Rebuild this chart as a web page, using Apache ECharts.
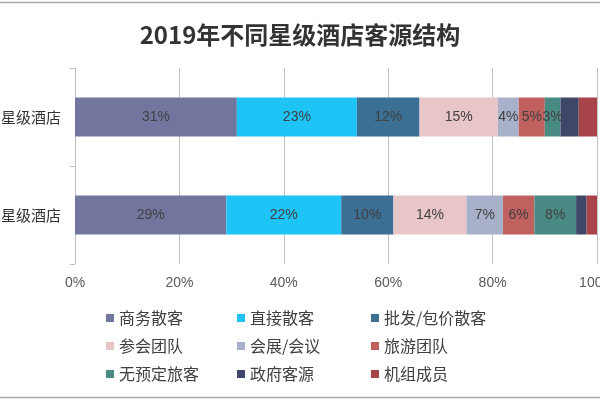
<!DOCTYPE html>
<html>
<head>
<meta charset="utf-8">
<script src="https://cdn.jsdelivr.net/npm/echarts@6/dist/echarts.min.js"></script>
<style>html,body{margin:0;padding:0;background:#fff;}#c{width:600px;height:401px;}</style>
</head>
<body>
<div id="c"></div>
<script>
const titleText = '2019年不同星级酒店客源结构';
const categories = ['星级酒店', '星级酒店']; // top, bottom
const seriesNames = ['商务散客', '直接散客', '批发/包价散客', '参会团队', '会展/会议', '旅游团队', '无预定旅客', '政府客源', '机组成员'];
const seriesColors = ['#72769f', '#1fc4f6', '#3b6f94', '#e8c5c7', '#a9b0c9', '#c1615f', '#4a8a84', '#3f4768', '#a6444a'];
const v_business = [31, 29];
const v_direct = [23, 22];
const v_wholesale = [12, 10];
const v_conference = [15, 14];
const v_exhibition = [4, 7];
const v_tour = [5, 6];
const v_walkin = [3, 8];
const v_government = [3.5, 2];
const v_crew = [3.5, 2];
const seriesValues = [v_business, v_direct, v_wholesale, v_conference, v_exhibition, v_tour, v_walkin, v_government, v_crew];
const labelShown = [true, true, true, true, true, true, true, false, false];
const xTicks = { min: 0, max: 100, interval: 20 };
const legendCols = [
  ['商务散客', '参会团队', '无预定旅客'],
  ['直接散客', '会展/会议', '政府客源'],
  ['批发/包价散客', '旅游团队', '机组成员']
];

const font = '"Noto Sans CJK SC", "Microsoft YaHei", sans-serif';
const chart = echarts.init(document.getElementById('c'), null, { renderer: 'canvas' });

const series = seriesNames.map((name, i) => ({
  name: name,
  type: 'bar',
  stack: 'total',
  barWidth: 39,
  itemStyle: { color: seriesColors[i] },
  label: {
    show: labelShown[i],
    position: 'inside',
    color: '#404040',
    fontSize: 14,
    fontFamily: 'Arial, "Liberation Sans", sans-serif',
    formatter: p => Math.round(p.value) + '%'
  },
  emphasis: { disabled: true },
  data: seriesValues[i]
}));

const legendLefts = [106, 237, 371];
const legends = legendCols.map((col, i) => ({
  orient: 'vertical',
  left: legendLefts[i],
  top: 310,
  padding: 0,
  itemGap: 12,
  itemWidth: 8,
  itemHeight: 8,
  icon: 'rect',
  selectedMode: false,
  textStyle: { fontSize: 16, color: '#404040', fontFamily: font, lineHeight: 16 },
  data: col
}));

chart.setOption({
  backgroundColor: '#ffffff',
  animation: false,
  title: {
    text: titleText,
    left: 'center',
    top: 18,
    textStyle: { fontSize: 24, fontWeight: 'bold', color: '#333333', fontFamily: font }
  },
  grid: { left: 75, right: 3, top: 68, bottom: 137, containLabel: false, outerBoundsMode: 'none' },
  xAxis: {
    type: 'value',
    min: xTicks.min,
    max: xTicks.max,
    interval: xTicks.interval,
    axisLine: { show: false },
    axisTick: { show: false },
    axisLabel: { formatter: '{value}%', fontSize: 14, color: '#595959', margin: 12, fontFamily: 'Arial, "Liberation Sans", sans-serif', hideOverlap: false },
    splitLine: { show: true, lineStyle: { color: '#c0c0c0', width: 1 } }
  },
  yAxis: {
    type: 'category',
    inverse: true,
    data: categories,
    axisLine: { show: true, lineStyle: { color: '#bfbfbf' } },
    axisTick: { show: true, length: 5, lineStyle: { color: '#bfbfbf' } },
    axisLabel: { fontSize: 15, color: '#333333', margin: 14, fontFamily: font }
  },
  legend: legends,
  graphic: [
    { type: 'line', shape: { x1: 0, y1: 2.5, x2: 600, y2: 2.5 }, style: { stroke: '#a8a8a8', lineWidth: 1.5 }, silent: true },
    { type: 'line', shape: { x1: 0, y1: 397.5, x2: 600, y2: 397.5 }, style: { stroke: '#a8a8a8', lineWidth: 1.5 }, silent: true }
  ],
  series: series
});
</script>
</body>
</html>
